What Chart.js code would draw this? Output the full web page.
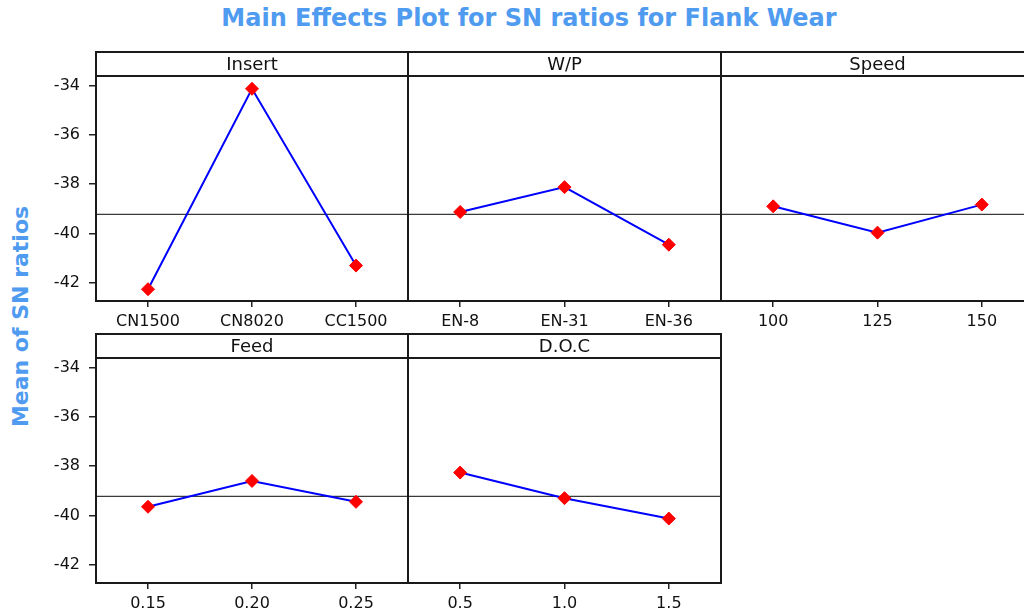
<!DOCTYPE html>
<html>
<head>
<meta charset="utf-8">
<script src="https://cdn.jsdelivr.net/npm/chart.js@4"></script>
<style>
    html, body { margin: 0; padding: 0; background: #fff; width: 1024px; height: 613px; overflow: hidden; }
    #title { position: absolute; left: 0; top: 4px; width: 1058px; text-align: center;
             font: bold 24px "DejaVu Sans"; color: #4f9bf0; white-space: nowrap; }
    #ylabel { position: absolute; left: -130px; top: 304px; width: 300px; text-align: center;
              font: bold 22px "DejaVu Sans"; color: #4f9bf0; transform: rotate(-90deg); white-space: nowrap; }
    canvas { position: absolute; }
</style>
</head>
<body>
<div id="title">Main Effects Plot for SN ratios for Flank Wear</div>
<div id="ylabel">Mean of SN ratios</div>
<canvas id="cInsert"></canvas>
<canvas id="cWP"></canvas>
<canvas id="cSpeed"></canvas>
<canvas id="cFeed"></canvas>
<canvas id="cDOC"></canvas>
<script>
    // data
    const insertLevels = ['CN1500', 'CN8020', 'CC1500'];
    const insertSN = [-42.27, -34.12, -41.31];
    const wpLevels = ['EN-8', 'EN-31', 'EN-36'];
    const wpSN = [-39.13, -38.12, -40.46];
    const speedLevels = ['100', '125', '150'];
    const speedSN = [-38.90, -39.97, -38.83];
    const feedLevels = ['0.15', '0.20', '0.25'];
    const feedSN = [-39.65, -38.60, -39.45];
    const docLevels = ['0.5', '1.0', '1.5'];
    const docSN = [-38.26, -39.30, -40.13];
    const grandMean = -39.23;
    const yTicks = [-42, -40, -38, -36, -34];
    const yMin = -42.75, yMax = -33.6;

    Chart.defaults.font.family = 'DejaVu Sans';

    const HEAD = 24, AXIS = 36, PAD = 3;

    // header strip, frame and the grand-mean line
    const panelFrame = {
        id: 'panelFrame',
        beforeDatasetsDraw(chart, args, opts) {
            const a = chart.chartArea, ctx = chart.ctx;
            const y = chart.scales.y.getPixelForValue(grandMean);
            ctx.save();
            ctx.strokeStyle = '#3a3a3a';
            ctx.lineWidth = 1.2;
            ctx.beginPath();
            ctx.moveTo(a.left, y);
            ctx.lineTo(a.right, y);
            ctx.stroke();
            ctx.restore();
        },
        afterDraw(chart, args, opts) {
            const a = chart.chartArea, ctx = chart.ctx;
            ctx.save();
            ctx.strokeStyle = '#1a1a1a';
            ctx.lineWidth = 2;
            ctx.strokeRect(a.left, a.top - HEAD, a.right - a.left, a.bottom - a.top + HEAD);
            ctx.beginPath();
            ctx.moveTo(a.left, a.top);
            ctx.lineTo(a.right, a.top);
            ctx.stroke();
            ctx.fillStyle = '#111';
            ctx.font = '18px "DejaVu Sans"';
            ctx.textAlign = 'center';
            ctx.textBaseline = 'middle';
            ctx.fillText(opts.name, (a.left + a.right) / 2, a.top - HEAD / 2 + 1);
            ctx.restore();
        }
    };

    function makePanel(id, name, levels, values, box, showY) {
        const cv = document.getElementById(id);
        const left = showY ? 0 : box.l - PAD;
        cv.width = box.r + PAD - left;
        cv.height = PAD + HEAD + (box.b - box.t) + AXIS;
        cv.style.left = left + 'px';
        cv.style.top = (box.t - HEAD - PAD) + 'px';

        const yScale = {
            display: showY,
            min: yMin,
            max: yMax,
            afterBuildTicks: s => { s.ticks = yTicks.map(v => ({ value: v })); },
            grid: { drawOnChartArea: false, tickLength: 7, color: '#222', lineWidth: 1.5 },
            border: { display: false },
            ticks: { color: '#111', font: { size: 16 }, padding: 9 }
        };
        if (showY) yScale.afterFit = s => { s.width = box.l; };

        new Chart(cv, {
            type: 'line',
            data: {
                labels: levels,
                datasets: [{
                    data: values,
                    borderColor: '#0000ff',
                    borderWidth: 2,
                    tension: 0,
                    pointStyle: 'rectRot',
                    pointRadius: 6.5,
                    pointBackgroundColor: '#ff0000',
                    pointBorderColor: '#ff0000',
                    pointBorderWidth: 1
                }]
            },
            options: {
                responsive: false,
                animation: false,
                devicePixelRatio: 1,
                layout: {
                    autoPadding: false,
                    padding: { left: showY ? 0 : PAD, right: PAD, top: HEAD + PAD, bottom: 0 }
                },
                plugins: {
                    legend: { display: false },
                    tooltip: { enabled: false },
                    panelFrame: { name: name }
                },
                scales: {
                    x: {
                        type: 'category',
                        offset: true,
                        afterFit: s => { s.height = AXIS; },
                        grid: { drawOnChartArea: false, tickLength: 6, color: '#222', lineWidth: 1.5 },
                        border: { display: false },
                        ticks: { color: '#111', font: { size: 16 }, padding: 5, maxRotation: 0, autoSkip: false }
                    },
                    y: yScale
                }
            },
            plugins: [panelFrame]
        });
    }

    const topRow = { t: 76, b: 301 }, botRow = { t: 358, b: 583 };
    const cols = [[96, 408], [408, 721], [721, 1034]];
    function box(row, c) { return { l: cols[c][0], r: cols[c][1], t: row.t, b: row.b }; }

    makePanel('cInsert', 'Insert', insertLevels, insertSN, box(topRow, 0), true);
    makePanel('cWP', 'W/P', wpLevels, wpSN, box(topRow, 1), false);
    makePanel('cSpeed', 'Speed', speedLevels, speedSN, box(topRow, 2), false);
    makePanel('cFeed', 'Feed', feedLevels, feedSN, box(botRow, 0), true);
    makePanel('cDOC', 'D.O.C', docLevels, docSN, box(botRow, 1), false);
</script>
</body>
</html>
